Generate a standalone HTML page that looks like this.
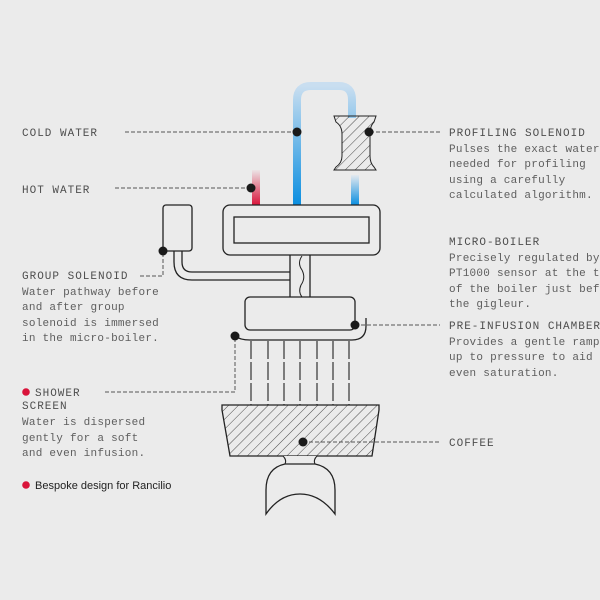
<!DOCTYPE html>
<html><head><style>
body{margin:0;background:#ebebeb;}
svg{display:block}
text{font-family:"Liberation Mono",monospace;font-size:11px;fill:#5e5e5e;letter-spacing:0.25px}
.h{fill:#4e4e4e;letter-spacing:1px}
</style></head><body>
<svg width="600" height="600" viewBox="0 0 600 600">
<defs>
<linearGradient id="bl" x1="0" y1="1" x2="0" y2="0"><stop offset="0" stop-color="#0a8ee0"/><stop offset="1" stop-color="#c9def0"/></linearGradient>
<linearGradient id="bl2" x1="0" y1="1" x2="0" y2="0"><stop offset="0" stop-color="#0a8ee0"/><stop offset="1" stop-color="#e4e9ef"/></linearGradient>
<linearGradient id="rd" x1="0" y1="1" x2="0" y2="0"><stop offset="0" stop-color="#d9143a"/><stop offset="1" stop-color="#ece4e6"/></linearGradient>
<pattern id="hatch" width="7" height="7" patternUnits="userSpaceOnUse" patternTransform="rotate(45)"><line x1="0" y1="0" x2="0" y2="7" stroke="#222" stroke-width="0.8"/></pattern>
</defs>
<rect width="600" height="600" fill="#ebebeb"/>
<path d="M297 205 V100 Q297 86 311 86 H339 Q352 86 352 100 V118" fill="none" stroke="url(#bl)" stroke-width="8"/>
<rect x="351" y="175" width="8" height="30" fill="url(#bl2)"/>
<rect x="252" y="170" width="8" height="35" fill="url(#rd)"/>
<path d="M334 116 H376 L374 122 Q370 126 370 134 V156 Q370 163 374 167 L376 170 H334 L336 167 Q342 163 342 156 V134 Q342 126 336 122 Z" fill="url(#hatch)" stroke="#222" stroke-width="1"/>
<rect x="223" y="205" width="157" height="50" rx="7" fill="#ebebeb" stroke="#222" stroke-width="1.3"/>
<rect x="234" y="217" width="135" height="26" fill="none" stroke="#222" stroke-width="1.3"/>
<rect x="163" y="205" width="29" height="46" rx="3" fill="none" stroke="#222" stroke-width="1.3"/>
<path d="M174 251 V262 Q174 280 192 280 H290 M182 251 V262 Q182 272 192 272 H290" fill="none" stroke="#222" stroke-width="1.3"/>
<path d="M290 255 V297 M310 255 V297" stroke="#222" stroke-width="1.3"/>
<path d="M302 256 Q297 263 302 270 Q306 278 301 285 Q298 292 302 297" fill="none" stroke="#222" stroke-width="1"/>
<rect x="245" y="297" width="110" height="33" rx="5" fill="none" stroke="#222" stroke-width="1.3"/>
<path d="M235 336 Q240 340 250 340 H352 Q366 340 366 326 V318" fill="none" stroke="#222" stroke-width="1.3"/>
<g stroke="#222" stroke-width="1.1" stroke-dasharray="18 3">
<line x1="251" y1="341" x2="251" y2="405"/><line x1="268" y1="341" x2="268" y2="405"/><line x1="284" y1="341" x2="284" y2="405"/><line x1="300" y1="341" x2="300" y2="405"/><line x1="317" y1="341" x2="317" y2="405"/><line x1="333" y1="341" x2="333" y2="405"/><line x1="349" y1="341" x2="349" y2="405"/>
</g>
<path d="M222 405 H379 V410 L372 456 H230 L222 410 Z" fill="url(#hatch)" stroke="#222" stroke-width="1.3"/>
<path d="M283 456 Q287 460 285 464 H315 Q313 460 317 456" fill="#ebebeb" stroke="#222" stroke-width="1.1"/>
<path d="M285 464 Q266 468 266 490 V514 Q280 494 300 494 Q320 494 335 514 V490 Q335 468 315 464 Z" fill="#ebebeb" stroke="#222" stroke-width="1.3"/>
<g stroke="#555" stroke-width="1" stroke-dasharray="4 2" fill="none">
<line x1="125" y1="132" x2="297" y2="132"/>
<line x1="370" y1="132" x2="440" y2="132"/>
<line x1="115" y1="188" x2="251" y2="188"/>
<path d="M140 276 H163 V251"/>
<line x1="355" y1="325" x2="440" y2="325"/>
<path d="M105 392 H235 V336"/>
<line x1="303" y1="442" x2="440" y2="442"/>
</g>
<g fill="#1a1a1a">
<circle cx="297" cy="132" r="4.5"/><circle cx="369" cy="132" r="4.5"/><circle cx="251" cy="188" r="4.5"/>
<circle cx="163" cy="251" r="4.5"/><circle cx="355" cy="325" r="4.5"/><circle cx="235" cy="336" r="4.5"/><circle cx="303" cy="442" r="4.5"/>
</g>
<text class="h" x="22" y="136">COLD WATER</text>
<text class="h" x="22" y="193">HOT WATER</text>
<text class="h" x="22" y="279">GROUP SOLENOID</text>
<text x="22" y="295">Water pathway before</text>
<text x="22" y="310">and after group</text>
<text x="22" y="326">solenoid is immersed</text>
<text x="22" y="341">in the micro-boiler.</text>
<circle cx="26" cy="392" r="3.8" fill="#d9143a"/>
<text class="h" x="35" y="396">SHOWER</text>
<text class="h" x="22" y="409">SCREEN</text>
<text x="22" y="425">Water is dispersed</text>
<text x="22" y="441">gently for a soft</text>
<text x="22" y="456">and even infusion.</text>
<circle cx="26" cy="485" r="3.8" fill="#d9143a"/>
<text x="35" y="489" style="font-family:'Liberation Sans',sans-serif;fill:#222;letter-spacing:0">Bespoke design for Rancilio</text>
<text class="h" x="449" y="136">PROFILING SOLENOID</text>
<text x="449" y="152">Pulses the exact water</text>
<text x="449" y="167">needed for profiling</text>
<text x="449" y="183">using a carefully</text>
<text x="449" y="198">calculated algorithm.</text>
<text class="h" x="449" y="245">MICRO-BOILER</text>
<text x="449" y="261">Precisely regulated by</text>
<text x="449" y="276">PT1000 sensor at the top</text>
<text x="449" y="292">of the boiler just before</text>
<text x="449" y="307">the gigleur.</text>
<text class="h" x="449" y="329">PRE-INFUSION CHAMBER</text>
<text x="449" y="345">Provides a gentle ramp</text>
<text x="449" y="360">up to pressure to aid</text>
<text x="449" y="376">even saturation.</text>
<text class="h" x="449" y="446">COFFEE</text>
</svg>
</body></html>
